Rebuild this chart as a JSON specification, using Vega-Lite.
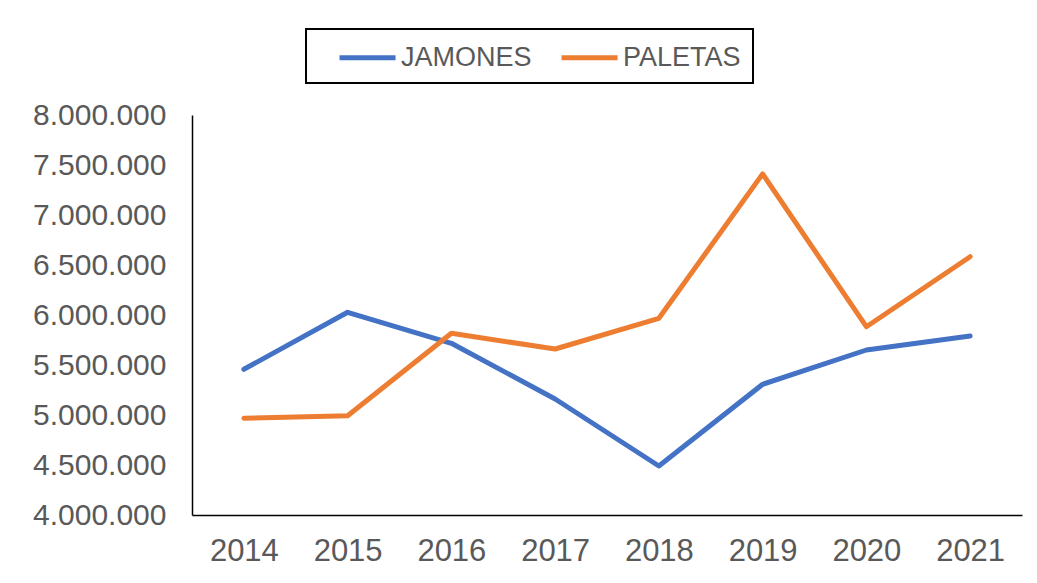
{
  "$schema": "https://vega.github.io/schema/vega-lite/v6.json",
  "autosize": {"type": "none"},
  "padding": {"left": 192, "top": 115, "right": 15, "bottom": 68},
  "width": 830,
  "height": 400,
  "background": "white",
  "config": {
    "view": {"stroke": null},
    "font": "Liberation Sans",
    "legend": {"strokeColor": "#000000", "strokeWidth": 2}
  },
  "data": {
    "values": [
      {"year": "2014", "serie": "JAMONES", "value": 5457000},
      {"year": "2015", "serie": "JAMONES", "value": 6027000},
      {"year": "2016", "serie": "JAMONES", "value": 5717000},
      {"year": "2017", "serie": "JAMONES", "value": 5160000},
      {"year": "2018", "serie": "JAMONES", "value": 4490000},
      {"year": "2019", "serie": "JAMONES", "value": 5307000},
      {"year": "2020", "serie": "JAMONES", "value": 5650000},
      {"year": "2021", "serie": "JAMONES", "value": 5790000},
      {"year": "2014", "serie": "PALETAS", "value": 4967000},
      {"year": "2015", "serie": "PALETAS", "value": 4993000},
      {"year": "2016", "serie": "PALETAS", "value": 5817000},
      {"year": "2017", "serie": "PALETAS", "value": 5660000},
      {"year": "2018", "serie": "PALETAS", "value": 5967000},
      {"year": "2019", "serie": "PALETAS", "value": 7410000},
      {"year": "2020", "serie": "PALETAS", "value": 5883000},
      {"year": "2021", "serie": "PALETAS", "value": 6583000}
    ]
  },
  "mark": {"type": "line", "strokeWidth": 5, "strokeCap": "round", "strokeJoin": "round"},
  "encoding": {
    "x": {
      "field": "year", "type": "ordinal", "title": null,
      "scale": {"type": "point", "padding": 0.5},
      "axis": {
        "labelAngle": 0, "ticks": false, "tickSize": 0, "grid": false,
        "domainColor": "#000000", "domainWidth": 1.5,
        "labelFontSize": 31, "labelColor": "#595959", "labelPadding": 21, "labelBaseline": "top"
      }
    },
    "y": {
      "field": "value", "type": "quantitative", "title": null,
      "scale": {"domain": [4000000, 8000000], "nice": false, "zero": false},
      "axis": {
        "values": [4000000, 4500000, 5000000, 5500000, 6000000, 6500000, 7000000, 7500000, 8000000],
        "labelExpr": "replace(replace(format(datum.value, ','), ',', '.'), ',', '.')",
        "ticks": false, "tickSize": 0, "grid": false,
        "domainColor": "#000000", "domainWidth": 1.5,
        "labelFontSize": 30, "labelColor": "#595959", "labelPadding": 26
      }
    },
    "color": {
      "field": "serie", "type": "nominal", "title": null,
      "scale": {"domain": ["JAMONES", "PALETAS"], "range": ["#4472C4", "#ED7D31"]},
      "legend": {
        "orient": "none", "direction": "horizontal",
        "legendX": 114, "legendY": -86,
        "symbolType": "M0.36,0H4.36", "symbolSize": 784, "symbolStrokeWidth": 5,
        "labelFontSize": 27, "labelColor": "#595959", "labelOffset": 50,
        "columnPadding": 8, "padding": 12,
        "strokeColor": "#000000", "fillColor": "white"
      }
    }
  }
}
